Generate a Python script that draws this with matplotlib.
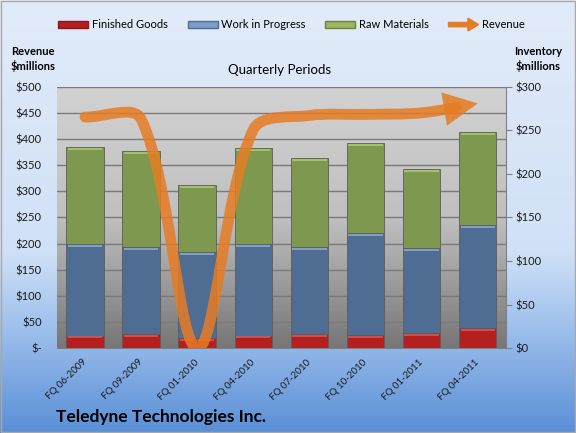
import numpy as np
import matplotlib
matplotlib.use('Agg')
import matplotlib.pyplot as plt
import matplotlib.patches as mpatches
from matplotlib.path import Path
from matplotlib.colors import LinearSegmentedColormap
from matplotlib.legend_handler import HandlerPatch
from matplotlib.transforms import ScaledTranslation

plt.rcParams['font.family'] = ['Lato', 'DejaVu Sans']

# data
quarters = ['FQ 06-2009', 'FQ 09-2009', 'FQ 01-2010', 'FQ 04-2010',
            'FQ 07-2010', 'FQ 10-2010', 'FQ 01-2011', 'FQ 04-2011']
finished_goods = [14.5, 16.5, 12, 14.5, 16.5, 15.5, 17, 23.5]
work_in_progress = [105, 100, 98, 105, 99.5, 116.5, 98, 118]
raw_materials = [111, 110, 77.5, 110.5, 102, 103.5, 90.5, 106.5]
revenue = [442, 438, 0, 418, 445, 447, 450, 468]

rev_ticks = list(range(0, 501, 50))
rev_labels = ['$-'] + ['$%d' % v for v in rev_ticks[1:]]
inv_ticks = list(range(0, 301, 50))
inv_labels = ['$%d' % v for v in inv_ticks]

red, blue, green = '#B41F1F', '#4F6C92', '#7E994F'
red_hi, blue_hi, green_hi = '#DA5A5A', '#8FB0D8', '#B0CC74'
orange = '#E67C24'

fig = plt.figure(figsize=(5.76, 4.33), dpi=100)

# figure background gradient
bg = fig.add_axes([0, 0, 1, 1], zorder=-10)
fig_cmap = LinearSegmentedColormap.from_list('figbg', [
    (0.0, '#5a8fd6'), (0.22, '#98bceb'), (0.42, '#d0e1f7'), (1.0, '#e2ebf9')])
bg.imshow(np.linspace(0, 1, 256).reshape(-1, 1), cmap=fig_cmap, origin='lower',
          aspect='auto', extent=[0, 1, 0, 1])
bg.axis('off')

ax = fig.add_axes([0.099, 0.1956, 0.779, 0.6042])
ax2 = ax.twinx()

# plot area gradient
plot_cmap = LinearSegmentedColormap.from_list('plotbg', [
    (0.0, '#767676'), (0.25, '#9c9c9c'), (0.5, '#c0c0c0'), (1.0, '#d2d2d2')])
ax.imshow(np.linspace(0, 1, 256).reshape(-1, 1), cmap=plot_cmap, origin='lower',
          aspect='auto', extent=[0, 1, 0, 1], transform=ax.transAxes, zorder=0)

x = np.arange(len(quarters))
ax.set_xlim(-0.5, len(quarters) - 0.5)
ax.set_ylim(0, 500)
ax2.set_ylim(0, 300)

ax.set_yticks(rev_ticks, rev_labels)
ax.grid(axis='y', color='#7a7a7a', lw=1)
ax.tick_params(axis='y', length=0, pad=11, labelsize=8, labelcolor='#1a1a1a')
ax.set_xticks(x, quarters, rotation=45, ha='right', va='center', rotation_mode='anchor')
ax.tick_params(axis='x', length=0, pad=9, labelsize=7, labelcolor='#1a1a1a')
for s in ax.spines.values():
    s.set_visible(False)

# stacked inventory bars
bw = 0.67
edge = '#5c5c5c'
ax2.bar(x, finished_goods, bw, color=red, edgecolor=edge, lw=0.6, zorder=2)
ax2.bar(x, work_in_progress, bw, bottom=finished_goods, color=blue, edgecolor=edge, lw=0.6, zorder=2)
bottom2 = np.add(finished_goods, work_in_progress)
ax2.bar(x, raw_materials, bw, bottom=bottom2, color=green, edgecolor=edge, lw=0.6, zorder=2)
hi = ax2.transData + ScaledTranslation(0, -1.3 / 72, fig.dpi_scale_trans)
tops = [finished_goods, bottom2, bottom2 + np.array(raw_materials)]
for t, c in zip(tops, [red_hi, blue_hi, green_hi]):
    ax2.hlines(t, x - bw / 2 + 0.03, x + bw / 2 - 0.03, colors=c, lw=1.1, transform=hi, zorder=3)

ax2.set_yticks(inv_ticks, inv_labels)
ax2.tick_params(axis='y', length=4, color='#808080', pad=3, labelsize=8, labelcolor='#1a1a1a')
for k in ['top', 'left']:
    ax2.spines[k].set_visible(False)
for k in ['right', 'bottom']:
    ax2.spines[k].set_color('#808080')

# smoothed revenue line (bezier through the points)
fig.canvas.draw()
bbox = ax.get_window_extent()
sx = bbox.width / len(quarters)
sy = bbox.height / 500
P = np.column_stack([x * sx, np.array(revenue) * sy])
n = len(P)
segs = []
for i in range(n - 1):
    p0, p1, p2, p3 = P[max(i - 1, 0)], P[i], P[i + 1], P[min(i + 2, n - 1)]
    d01, d12, d23 = [np.hypot(*d) for d in (p1 - p0, p2 - p1, p3 - p2)]
    c1 = p1 + (p2 - p0) * d12 / (d01 + d12) / 3
    c2 = p2 - (p3 - p1) * d12 / (d12 + d23) / 3
    segs.append([p1, c1, c2, p2])

# cut the last piece so the thick line ends inside the arrow head
a, b, c, d = segs[-1]
t = 0.62
ab, bc, cd = a + (b - a) * t, b + (c - b) * t, c + (d - c) * t
abc, bcd = ab + (bc - ab) * t, bc + (cd - bc) * t
segs_line = segs[:-1] + [[a, ab, abc, abc + (bcd - abc) * t]]

verts = [segs_line[0][0]]
codes = [Path.MOVETO]
for s in segs_line:
    verts += s[1:]
    codes += [Path.CURVE4] * 3
verts = np.array(verts) / [sx, sy]
line = mpatches.PathPatch(Path(verts, codes), fill=False, ec=orange, lw=7.8,
                          alpha=0.85, capstyle='round', transform=ax.transData, zorder=5)
ax2.add_patch(line)

tail = segs[-1][2] / [sx, sy]
ax2.annotate('', xy=(x[-1], revenue[-1]), xycoords=ax.transData,
             xytext=tuple(tail), textcoords=ax.transData,
             arrowprops=dict(arrowstyle='-|>,head_length=2.45,head_width=1.22',
                             mutation_scale=10, lw=0, fc=orange, alpha=0.85,
                             shrinkA=0, shrinkB=0), zorder=6)

# legend
def legend_arrow(legend, orig_handle, xdescent, ydescent, width, height, fontsize):
    return mpatches.FancyArrow(-xdescent, -ydescent + height / 2, width, 0,
                               width=height * 0.6, head_width=height * 1.8,
                               head_length=width * 0.35, length_includes_head=True)

rev_handle = mpatches.Patch(color=orange)
handles = [mpatches.Patch(fc=red, ec='#8a1a1a'), mpatches.Patch(fc='#7f9cc4', ec='#4f6c92'),
           mpatches.Patch(fc='#9bb560', ec='#6b8540'), rev_handle]
fig.legend(handles, ['Finished Goods', 'Work in Progress', 'Raw Materials', 'Revenue'],
           loc='center', bbox_to_anchor=(0.506, 1 - 25 / 433), ncol=4, frameon=False,
           fontsize=8, handlelength=2.7, handleheight=0.6, handletextpad=0.3,
           columnspacing=1.8, handler_map={rev_handle: HandlerPatch(patch_func=legend_arrow)})

fig.text(33 / 576, 1 - 59 / 433, 'Revenue\n$millions', ha='center', va='center',
         fontsize=8, fontweight='bold', linespacing=1.3)
fig.text(538 / 576, 1 - 59 / 433, 'Inventory\n$millions', ha='center', va='center',
         fontsize=8, fontweight='bold', linespacing=1.3)
fig.text(280 / 576, 1 - 70 / 433, 'Quarterly Periods', ha='center', va='center', fontsize=9.5)
fig.text(56 / 576, 1 - 417 / 433, 'Teledyne Technologies Inc.', ha='left', va='center',
         fontsize=12.5, fontweight='bold')

fig.patches.append(mpatches.Rectangle((0.002, 0.002), 0.996, 0.995, transform=fig.transFigure,
                                      fill=False, ec='#a8a8a8', lw=1))

fig.savefig('out.png', dpi=100)
